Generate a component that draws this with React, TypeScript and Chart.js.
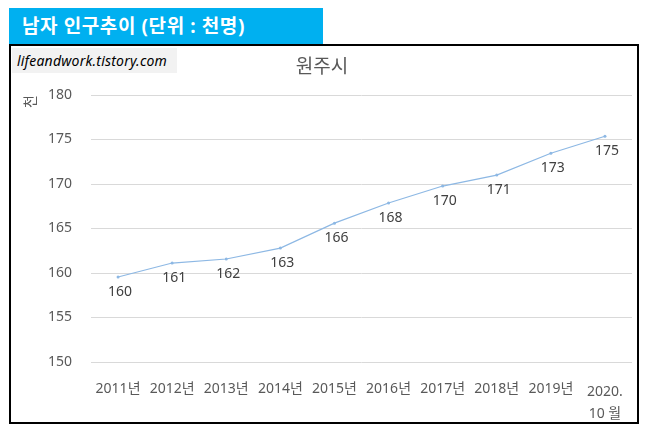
import React, { useRef, useEffect } from "react";
import { Chart, registerables, Plugin } from "chart.js";

Chart.register(...registerables);

const FONT = '"Noto Sans", "Noto Sans CJK KR", sans-serif';

const years: (string | string[])[] = [
  "2011년", "2012년", "2013년", "2014년", "2015년",
  "2016년", "2017년", "2018년", "2019년", ["2020.", "10 월"],
];
const population = [159.55, 161.12, 161.57, 162.8, 165.6, 167.87, 169.77, 171.0, 173.46, 175.37];
const yTicks = [150, 155, 160, 165, 170, 175, 180];

// labels under each point, rounded like the source
const pointLabels: Plugin<"line"> = {
  id: "pointLabels",
  afterDatasetsDraw(chart) {
    const ctx = chart.ctx;
    const meta = chart.getDatasetMeta(0);
    ctx.save();
    ctx.font = `14px ${FONT}`;
    ctx.fillStyle = "#404040";
    ctx.textAlign = "center";
    ctx.textBaseline = "middle";
    meta.data.forEach((pt, i) => {
      ctx.fillText(String(Math.round(population[i])), pt.x + 2, pt.y + 15);
    });
    ctx.restore();
  },
};

const PopulationChart: React.FC = () => {
  const chartRef = useRef<HTMLCanvasElement | null>(null);

  useEffect(() => {
    if (!chartRef.current) return;
    const chartInstance = new Chart(chartRef.current, {
      type: "line",
      data: {
        labels: years,
        datasets: [
          {
            data: population,
            borderColor: "#8db8e4",
            backgroundColor: "#8db8e4",
            borderWidth: 1.2,
            pointRadius: 1.5,
            pointBorderWidth: 0,
            tension: 0,
            fill: false,
          },
        ],
      },
      options: {
        responsive: false,
        animation: false,
        layout: { padding: { top: 49, right: 5, left: 0, bottom: 0 } },
        plugins: {
          legend: { display: false },
          tooltip: { enabled: false },
          title: { display: false },
        },
        scales: {
          x: {
            offset: true,
            grid: { display: false },
            border: { display: false },
            ticks: {
              color: "#595959",
              padding: 11,
              maxRotation: 0,
              autoSkip: false,
              font: (c: any) => ({
                family: FONT,
                size: 14,
                lineHeight: c.index === 9 ? "22px" : 1.2,
              }),
            },
            afterFit: (scale: any) => {
              scale.height = 60;
            },
          },
          y: {
            min: 150,
            max: 180,
            afterBuildTicks: (scale: any) => {
              scale.ticks = yTicks.map((v) => ({ value: v }));
            },
            grid: { color: "#d9d9d9", drawTicks: false, lineWidth: 1 },
            border: { display: false },
            ticks: {
              color: "#595959",
              padding: 19,
              font: { family: FONT, size: 14 },
            },
            title: {
              display: true,
              text: "천",
              align: "end",
              color: "#595959",
              padding: { top: 12, bottom: 0 },
              font: { family: FONT, size: 14 },
            },
            afterFit: (scale: any) => {
              scale.width = 80;
            },
          },
        },
      },
      plugins: [pointLabels],
    });

    return () => {
      chartInstance.destroy();
    };
  }, []);

  return <canvas ref={chartRef} width={626} height={376} />;
};

export default function App() {
  return (
    <div style={{ position: "relative", width: 640, height: 420, margin: "-1px 0 0 1px", fontFamily: FONT }}>
      <div
        style={{
          position: "absolute",
          left: 0,
          top: 0,
          width: 314,
          height: 38,
          background: "#00b0f0",
          color: "#fff",
          fontWeight: "bold",
          fontSize: 19,
          letterSpacing: 0.6,
          lineHeight: "38px",
          paddingLeft: 13,
          boxSizing: "border-box",
        }}
      >
        남자 인구추이 (단위 : 천명)
      </div>
      <div
        style={{
          position: "absolute",
          left: 0,
          top: 37,
          width: 630,
          height: 380,
          border: "2px solid #000",
          boxSizing: "border-box",
          background: "#fff",
        }}
      >
        <div style={{ position: "absolute", left: 0, top: 0 }}>
          <PopulationChart />
        </div>
        <div
          style={{
            position: "absolute",
            left: 1,
            top: 2,
            width: 165,
            height: 25,
            background: "#f2f2f2",
            fontStyle: "italic",
            fontSize: 14,
            letterSpacing: 0.2,
            lineHeight: "25px",
            paddingLeft: 5,
            boxSizing: "border-box",
            color: "#000",
          }}
        >
          lifeandwork.tistory.com
        </div>
        <div
          style={{
            position: "absolute",
            left: 0,
            width: 622,
            top: 5,
            textAlign: "center",
            fontSize: 19,
            color: "#595959",
          }}
        >
          원주시
        </div>
      </div>
    </div>
  );
}
